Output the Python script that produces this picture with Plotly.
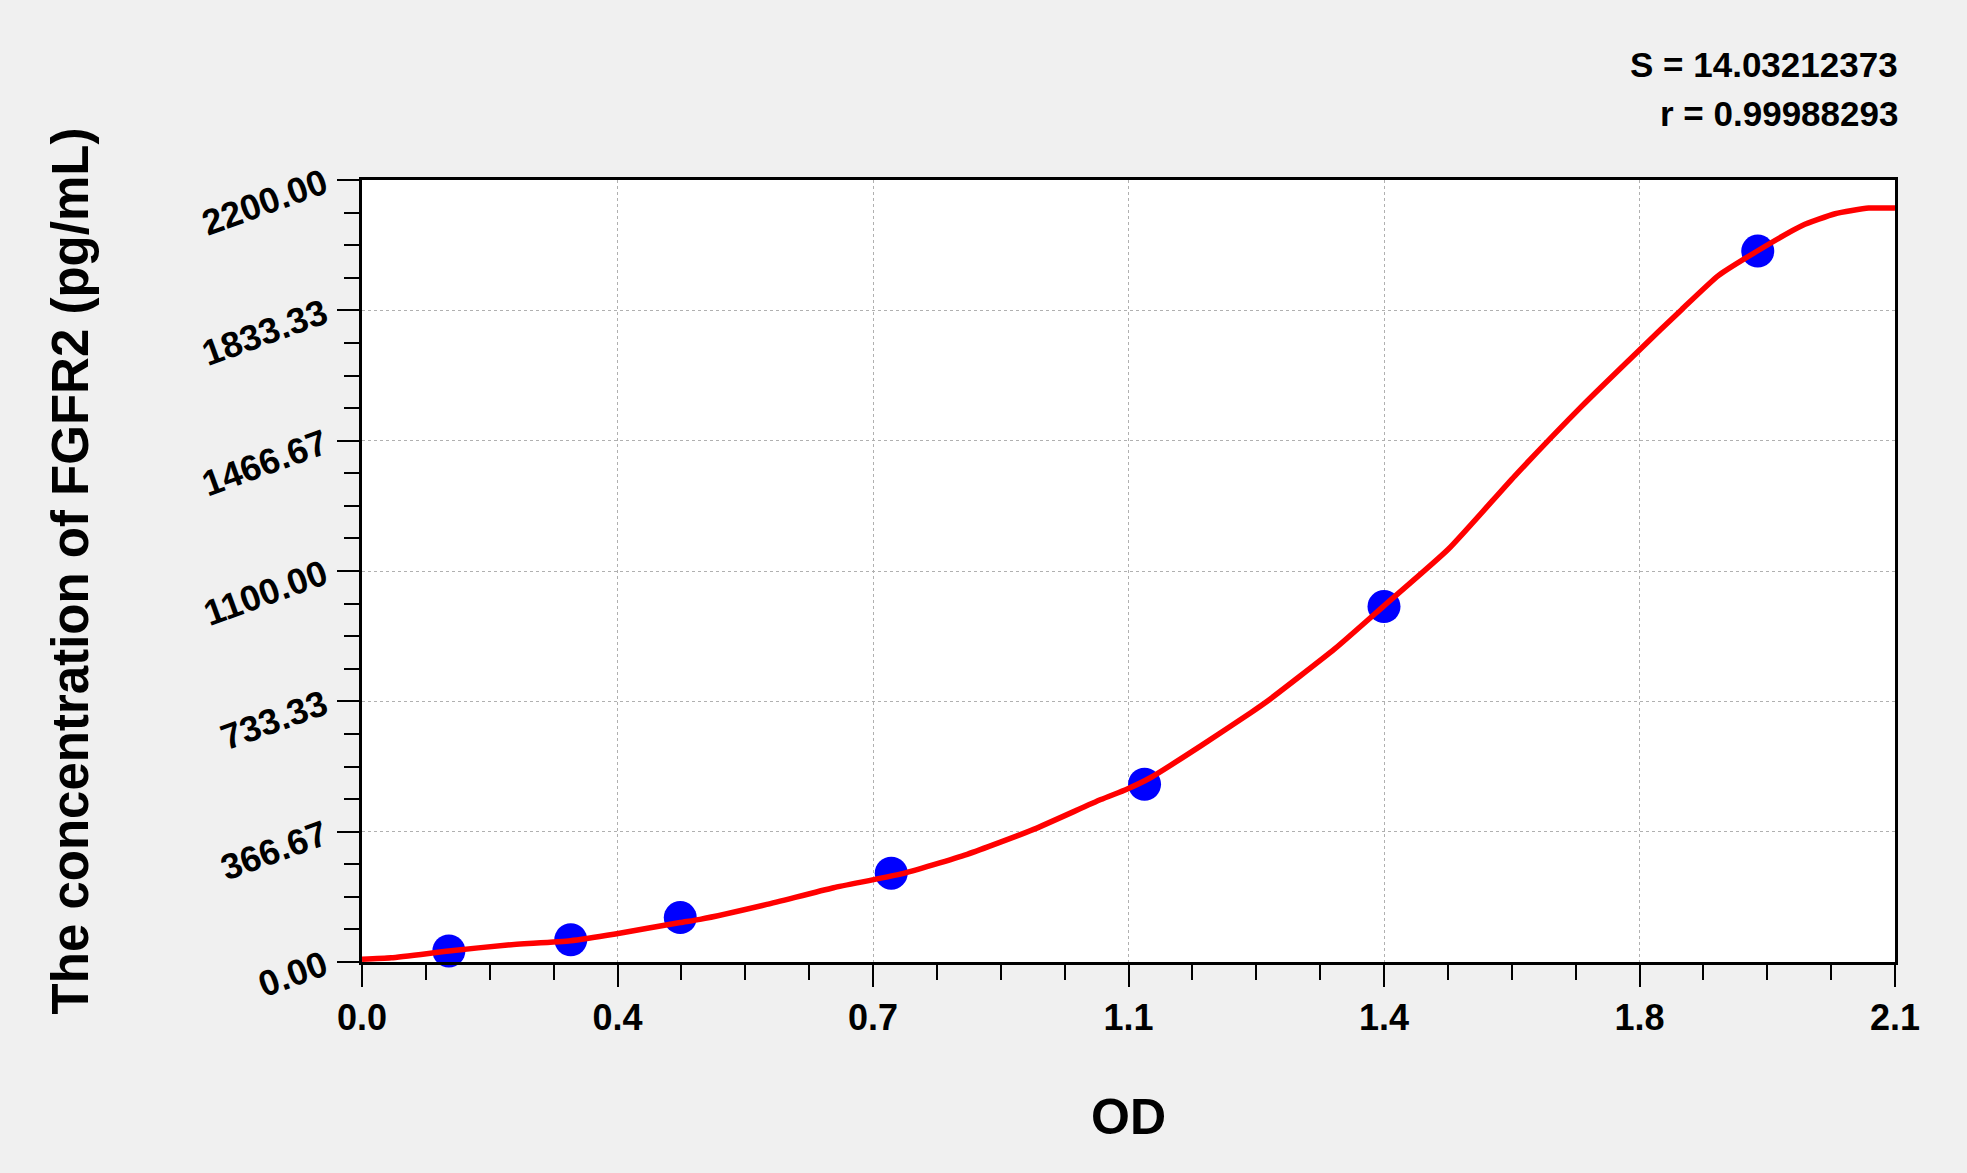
"""
Standard curve for the FGFR2 ELISA: OD readings of the standards against
their concentration, with the fitted curve drawn over them.
"""

import plotly.graph_objects as go

# ── Standards (read from the plate) ──
od_standards = [0.119, 0.286, 0.436, 0.725, 1.072, 1.400, 1.912]
conc_standards = [31.25, 62.5, 125.0, 250.0, 500.0, 1000.0, 2000.0]

# ── Fitted curve, sampled along OD ──
od_fit = [0.0, 0.04, 0.119, 0.1995, 0.2856, 0.347, 0.436, 0.463, 0.5545,
          0.646, 0.7374, 0.829, 0.920, 1.012, 1.0476, 1.0806, 1.149, 1.218,
          1.241, 1.332, 1.400, 1.488, 1.579, 1.671, 1.75, 1.808, 1.858,
          1.912, 1.973, 2.018, 2.064, 2.1]
conc_fit = [8, 12, 31, 48, 60, 79, 111, 120, 162,
            209, 247, 303, 373, 457, 486, 519, 608, 702,
            735, 880, 1002, 1161, 1367, 1564, 1722, 1836, 1931,
            2001, 2072, 2105, 2121, 2121]

# ── Axis ticks ──
x_tickvals = [0.0, 0.35, 0.7, 1.05, 1.4, 1.75, 2.1]
x_ticktext = ["0.0", "0.4", "0.7", "1.1", "1.4", "1.8", "2.1"]
y_tickvals = [0.0, 366.67, 733.33, 1100.0, 1466.67, 1833.33, 2200.0]
y_ticktext = ["0.00", "366.67", "733.33", "1100.00", "1466.67", "1833.33", "2200.00"]

fit_stats = ["S = 14.03212373", "r = 0.99988293"]

FONT = "Liberation Sans, Arial, sans-serif"

fig = go.Figure()

fig.add_trace(go.Scatter(
    x=od_standards, y=conc_standards, mode="markers",
    marker=dict(color="#0000ff", size=33, line=dict(width=0)),
    cliponaxis=False, showlegend=False,
))
fig.add_trace(go.Scatter(
    x=od_fit, y=conc_fit, mode="lines",
    line=dict(color="#ff0000", width=5.5, shape="spline", smoothing=0.5),
    showlegend=False,
))

axis_common = dict(
    showline=True, linecolor="black", linewidth=3, mirror=True,
    ticks="outside", ticklen=22, tickwidth=2, tickcolor="black",
    showgrid=True, gridcolor="#b0b0b0", gridwidth=1, griddash="3px,3px",
    zeroline=False,
    tickfont=dict(family=FONT, size=36, color="black", weight="bold"),
    tickmode="array",
)

fig.update_xaxes(
    **axis_common,
    range=[0, 2.1], tickvals=x_tickvals, ticktext=x_ticktext,
    minor=dict(tickmode="linear", tick0=0, dtick=0.0875, ticks="outside",
               ticklen=15, tickwidth=2, tickcolor="black", showgrid=False),
    title=dict(text="OD", standoff=62,
               font=dict(family=FONT, size=50, color="black", weight="bold")),
)
fig.update_yaxes(
    **axis_common,
    range=[0, 2200], tickvals=y_tickvals, ticktext=y_ticktext, tickangle=-20,
    ticklabelstandoff=6,
    minor=dict(tickmode="linear", tick0=0, dtick=2200 / 24, ticks="outside",
               ticklen=15, tickwidth=2, tickcolor="black", showgrid=False),
    title=dict(text="The concentration of FGFR2 (pg/mL)", standoff=92,
               font=dict(family=FONT, size=51, color="black", weight="bold")),
)

for i, txt in enumerate(fit_stats):
    fig.add_annotation(
        text=txt, xref="paper", yref="paper", x=1.0, y=1.0,
        xanchor="right", yanchor="middle", xshift=5, yshift=116 - 49 * i,
        showarrow=False,
        font=dict(family=FONT, size=35, color="black", weight="bold"),
    )

fig.update_layout(
    width=1967, height=1173,
    paper_bgcolor="#f0f0f0", plot_bgcolor="white",
    margin=dict(l=362, r=72, t=180, b=211),
)

# drop the browser's default body margin so the figure sits flush
fig.write_html(
    "out.html",
    config={"displayModeBar": False},
    post_script="document.body.style.margin = '0';",
)
